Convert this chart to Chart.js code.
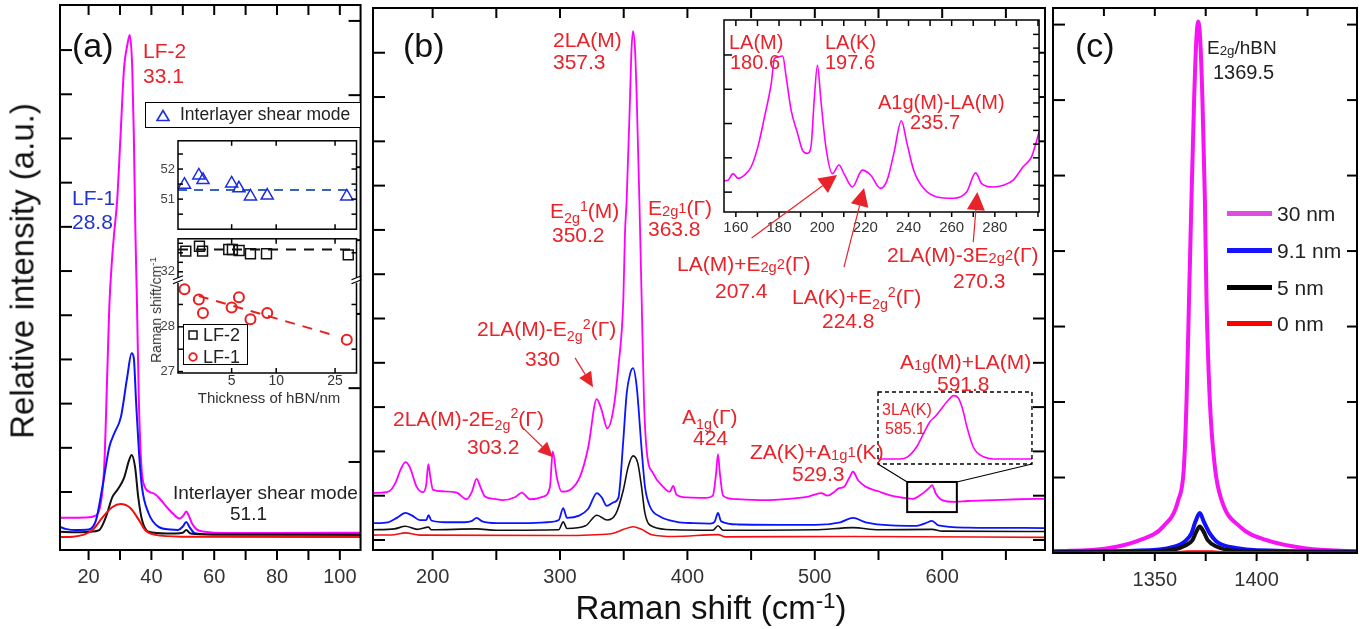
<!DOCTYPE html>
<html>
<head>
<meta charset="utf-8">
<script src="https://cdn.jsdelivr.net/npm/chart.js@4.4.1/dist/chart.umd.min.js"></script>
<style>
body { margin: 0; background: #fff; }
#fig { position: relative; width: 1360px; height: 629px; overflow: hidden; font-family: 'Liberation Sans', Arial, sans-serif; }
canvas { position: absolute; }
.t { position: absolute; white-space: nowrap; line-height: 1; transform: translateY(-50%); }
.t.c { transform: translate(-50%, -50%); }
.t.v { transform: translate(-50%, -50%) rotate(-90deg); }
.sb { font-size: 0.68em; position: relative; top: 0.32em; }
.sp { font-size: 0.68em; position: relative; top: -0.5em; }
.sm { font-size: 0.7em; position: relative; top: 0.08em; }
.su { font-size: 0.7em; position: relative; top: -0.12em; }
.box { position: absolute; border: 1.5px solid #000; background: #fff; box-sizing: border-box; }
svg { position: absolute; }
</style>
</head>
<body>
<div id="fig">
  <canvas id="ca" width="372" height="600" style="left:0;top:0"></canvas>
  <canvas id="cb" width="680" height="600" style="left:372px;top:0"></canvas>
  <canvas id="cc" width="308" height="600" style="left:1052px;top:0"></canvas>
  <div class="box" style="left:145px;top:102px;width:216px;height:26px"></div>
  <canvas id="cat" width="225" height="110" style="left:140px;top:130px"></canvas>
  <canvas id="cab" width="225" height="164" style="left:140px;top:228px"></canvas>
  <canvas id="cbi" width="345" height="260" style="left:700px;top:15px"></canvas>
</div>
<script>
// ---- (a) low frequency spectra: [shift, intensity]
var A_30NM = [[10.9,0.42],[15,0.42],[20,0.43],[22,0.46],[23,0.52],[24,0.8],[25,1.6],[26,3.8],[26.6,5.2],[27.5,6.3],[28.2,6.9],[29.1,7.6],[30.2,9.1],[31.3,10.6],[32.3,11.1],[33.1,11.34],[33.9,10.6],[34.4,9.1],[34.9,6.9],[35.4,5.3],[36,3.1],[36.8,1.6],[38,1.1],[39.5,1.0],[41.2,0.95],[43,0.82],[45,0.65],[47,0.5],[49,0.4],[50.2,0.47],[51.1,0.56],[52,0.45],[53,0.28],[54.5,0.15],[57,0.1],[60,0.08],[80,0.07],[106.6,0.08]];
var A_9NM = [[10.9,0.21],[13,0.16],[16,0.14],[20,0.15],[22.4,0.37],[24.4,1.11],[26.6,2.02],[28.2,2.33],[30.3,2.7],[32.3,3.6],[33.7,4.14],[34.4,4.03],[35.1,3.08],[36,1.95],[37,1.11],[39.1,0.52],[42.3,0.21],[46,0.15],[48.5,0.14],[50,0.22],[51.1,0.32],[52.2,0.2],[53.8,0.07],[60,0.04],[106.6,0.03]];
var A_5NM = [[10.9,0.1],[16,0.09],[20,0.1],[23.4,0.14],[25.5,0.43],[27.6,0.89],[29.2,1.05],[31.3,1.32],[32.9,1.72],[33.7,1.84],[34.8,1.57],[35.8,0.89],[37,0.37],[39.1,0.1],[45,0.06],[50,0.08],[51.1,0.14],[52.5,0.06],[60,0.04],[106.6,0.04]];
var A_0NM = [[10.9,-0.02],[15,-0.01],[18.2,0.03],[21.3,0.14],[24.5,0.43],[27.6,0.66],[30.2,0.73],[33.3,0.64],[36,0.37],[38,0.14],[41.2,0.03],[50,-0.01],[106.6,-0.02]];
var A_XTICKS = [20, 30, 40, 50, 60, 70, 80, 90, 100];
var A_XLABELS = [20, 40, 60, 80, 100];
var A_YTICKS = [1, 2, 3, 4, 5, 6, 7, 8, 9, 10, 11];
var A_YTICKS_R = [1.68, 3.35, 5.03, 6.7, 8.35, 9.98, 11.66];

// ---- (a) inset: peak position vs hBN thickness
var THICK = [2.4, 3.0, 3.2, 5.0, 5.6, 6.7, 8.7, 30];
var SHEAR = [51.48, 51.79, 51.64, 51.52, 51.36, 51.09, 51.12, 51.09];
var LF1 = [28.84, 28.61, 28.31, 28.43, 28.66, 28.17, 28.31, 27.71];
var LF2_THICK = [2.45, 3.03, 3.18, 4.78, 5.06, 5.62, 6.7, 8.6, 30.7];
var LF2 = [33.09, 33.34, 33.09, 33.17, 33.17, 33.12, 32.95, 32.95, 32.89];
var SHEAR_FIT = [[2.17, 51.3], [34.9, 51.3]];
var LF2_FIT = [[2.17, 33.17], [34.9, 33.17]];
var LF1_FIT = [[3.0, 28.69], [24.1, 27.82]];
var IN_XTICKS = [5, 10, 25];
var IN_TOP_YTICKS = [51, 52];
var IN_LO_YTICKS = [27, 28];
var IN_HI_YTICKS = [32];

// ---- (b) spectra
var B_30NM = [[153,1.06],[160,1.07],[166,1.1],[171,1.3],[175,1.6],[178.6,1.76],[182,1.65],[187.5,1.2],[192.5,1.08],[195,1.25],[196.6,1.71],[198.3,1.4],[200.3,1.13],[208,1.1],[218.9,1.07],[226.7,0.92],[231,1.1],[234.5,1.38],[237.5,1.2],[241.1,0.98],[248,0.93],[255.3,0.9],[265,0.97],[270,1.07],[276.4,0.92],[286.9,0.98],[292.1,1.2],[294.3,2.0],[297.4,1.43],[301.3,1.09],[307.8,1.13],[315.7,1.43],[322.2,2.1],[328.8,3.18],[332.7,2.93],[337.1,2.52],[341.8,2.93],[345.8,3.91],[349.7,5.42],[351,6.93],[352.3,7.67],[354.9,9.93],[356,11.0],[357.3,11.49],[358.9,11.06],[360.2,10.0],[362.3,7.67],[364.1,5.42],[365.9,3.16],[368,2.03],[373.2,1.5],[381,1.2],[386.2,1.09],[388.8,1.22],[391.5,1.02],[400,0.96],[415,0.95],[420,1.0],[422.5,1.5],[424,1.94],[425.5,1.5],[428,1.0],[435,0.93],[460,0.9],[480,0.93],[495,0.98],[505,1.06],[510,1.0],[515,1.08],[519,1.17],[523,1.2],[527,1.4],[530,1.54],[534,1.35],[540,1.2],[550,1.1],[560,1.0],[570,0.95],[577,0.93],[582,1.0],[586,1.08],[590,1.18],[592,1.24],[595,1.05],[600,0.9],[610,0.86],[620,0.88],[640,0.9],[660,0.92],[681,0.93]];
var B_9NM = [[153,0.38],[165,0.4],[172,0.5],[178.6,0.61],[184,0.55],[190,0.45],[195,0.45],[196.8,0.56],[199,0.44],[210,0.4],[225,0.4],[231,0.43],[234.5,0.5],[239,0.42],[250,0.38],[270,0.38],[290,0.4],[299,0.45],[302.5,0.72],[305.5,0.5],[315,0.55],[322,0.7],[329,1.06],[333,0.95],[336.7,0.77],[342,0.85],[345.8,0.95],[349.7,2.26],[352.3,3.3],[355,3.75],[357.3,3.88],[360.2,3.46],[364.1,2.03],[366.7,1.2],[370.7,0.75],[378.5,0.53],[391.6,0.41],[405,0.38],[418,0.37],[421.5,0.42],[424,0.61],[426.5,0.42],[440,0.35],[500,0.34],[520,0.4],[530,0.5],[540,0.4],[560,0.33],[580,0.32],[587,0.38],[592,0.43],[597,0.33],[620,0.28],[681,0.27]];
var B_5NM = [[153,0.23],[170,0.25],[178.6,0.31],[188,0.24],[196.8,0.29],[199,0.23],[234.5,0.25],[250,0.22],[299,0.23],[302.5,0.41],[305.5,0.26],[320,0.32],[329,0.56],[337,0.45],[344,0.6],[349.7,1.13],[353.5,1.65],[357.3,1.9],[361,1.74],[364,1.2],[366.7,0.6],[373,0.3],[390,0.23],[420,0.22],[424,0.32],[428,0.22],[500,0.23],[530,0.28],[550,0.23],[592,0.24],[600,0.2],[681,0.19]];
var B_0NM = [[153,0.11],[170,0.12],[178.6,0.16],[190,0.11],[300,0.1],[340,0.14],[350,0.24],[357.3,0.3],[364,0.24],[372,0.12],[390,0.08],[424,0.12],[430,0.07],[530,0.08],[681,0.06]];
var B_3LA = [[572.5,0.07],[578,0.07],[580,0.1],[582.3,0.24],[584,0.42],[585.7,0.59],[587,0.66],[589,0.8],[590.5,0.9],[591.6,0.95],[592.8,0.92],[594,0.75],[595,0.52],[596.6,0.24],[598,0.14],[599.2,0.1],[601.6,0.07],[611.5,0.07]];
var B_XTICKS = [200, 250, 300, 350, 400, 450, 500, 550, 600, 650];
var B_XLABELS = [200, 300, 400, 500, 600];
var B_YTICKS = [0, 1, 2, 3, 4, 5, 6, 7, 8, 9, 10, 11];

// ---- (b) inset: 30 nm spectrum 155-300 cm-1
var BI_30NM = [[154.5,0.33],[156.4,0.35],[158.7,0.54],[161,0.4],[164.1,0.5],[167.1,0.74],[170.2,1.32],[173.3,2.2],[176.4,3.17],[177.9,3.9],[180.2,3.95],[181.7,3.97],[183.3,3.36],[185.6,2.39],[188.6,1.71],[190.9,1.22],[193.2,1.13],[194.8,1.32],[196.3,2.68],[197.8,3.7],[199.4,2.68],[201.7,1.32],[204.7,0.54],[207.8,0.79],[210.1,0.54],[214,0.15],[218.6,0.64],[222.4,0.5],[227,0.11],[230.1,0.35],[233.2,1.13],[236.7,2.08],[239.3,1.42],[242.4,0.64],[247,0.11],[253.1,-0.14],[260.8,-0.18],[267,0.01],[271.1,0.56],[273.9,0.25],[279.3,0.15],[283.9,0.2],[288.5,0.35],[293.1,0.74],[297,1.03],[300.5,1.75]];
var BI_XTICKS = [160, 170, 180, 190, 200, 210, 220, 230, 240, 250, 260, 270, 280, 290, 300];
var BI_XLABELS = [160, 180, 200, 220, 240, 260, 280];
var BI_YTICKS = [0, 1, 2, 3, 4];
var BI_YTICKS_R = [-0.2, 0.2, 0.6, 1.0, 1.4, 1.8, 2.2, 2.6, 3.0, 3.4, 3.8, 4.2, 4.6];

// ---- (c) hBN E2g band
var C_30NM = [[1300,0.02],[1326.3,0.06],[1342.6,0.17],[1354.1,0.35],[1361.5,0.7],[1364.3,1.14],[1365.6,2.03],[1366.8,3.35],[1368,4.68],[1369.3,6.0],[1370.4,6.8],[1371.3,7.04],[1372.3,6.8],[1373.4,6.0],[1374.6,4.68],[1375.4,3.35],[1377,2.03],[1379.5,1.14],[1382.8,0.7],[1391.8,0.35],[1404.9,0.17],[1424.6,0.06],[1449.3,0.02]];
var C_9NM = [[1300,0.02],[1340,0.03],[1359,0.08],[1365,0.16],[1368,0.26],[1370,0.42],[1372.1,0.53],[1374,0.42],[1377,0.26],[1380,0.16],[1386.9,0.08],[1410,0.03],[1449.3,0.02]];
var C_5NM = [[1300,0.01],[1345,0.02],[1360,0.05],[1365,0.1],[1368.5,0.17],[1370.5,0.29],[1372.1,0.35],[1374,0.28],[1376,0.17],[1380,0.09],[1386,0.04],[1400,0.02],[1449.3,0.01]];
var C_0NM = [[1300,0],[1360,0.005],[1366,0.015],[1378,0.015],[1384,0.005],[1449.3,0]];
var C_XTICKS = [1325, 1350, 1375, 1400, 1425];
var C_XLABELS = [1350, 1400];
var C_YTICKS = [1, 2, 3, 4, 5, 6, 7];
var LEGEND = ['30 nm', '9.1 nm', '5 nm', '0 nm'];

var MAG = '#ff00ff', BLUE = '#0a14ff', BLACK = '#111111', REDL = '#f01010';
var RED = '#e8232a', BLUET = '#2336c8';

Chart.defaults.font.family = "'Liberation Sans', Arial, sans-serif";
Chart.defaults.color = '#333';
Chart.defaults.animation = false;
Chart.defaults.events = [];
Chart.defaults.plugins.legend.display = false;
Chart.defaults.plugins.tooltip.enabled = false;

function pts(a) { return a.map(function (p) { return { x: p[0], y: p[1] }; }); }
function line(a, color, w, extra) {
  return Object.assign({ data: pts(a), borderColor: color, borderWidth: w, pointRadius: 0, fill: false,
    cubicInterpolationMode: 'monotone' }, extra || {});
}
function setTicks(values) { return function (s) { s.ticks = values.map(function (v) { return { value: v }; }); }; }
function xAxis(min, max, ticks, labels, size, pad, h, type) {
  return {
    type: type || 'linear', min: min, max: max,
    afterBuildTicks: setTicks(ticks),
    afterFit: function (s) { s.height = h; },
    grid: { display: false, drawTicks: false }, border: { display: false },
    ticks: { autoSkip: false, maxRotation: 0, minRotation: 0, padding: pad, font: { size: size },
      callback: function (v) { return labels.indexOf(v) >= 0 ? String(v) : ''; } }
  };
}
function yLabelled(min, max, ticks, extra) {
  return Object.assign({
    type: 'linear', position: 'left', min: min, max: max,
    afterBuildTicks: setTicks(ticks),
    afterFit: function (s) { s.width = 38; },
    grid: { display: false, drawTicks: false }, border: { display: false },
    ticks: { padding: 3, color: '#444', font: { size: 13 }, callback: function (v) { return String(v); } }
  }, extra || {});
}

function drawArrow(ctx, xs, ys, ar) {
  var x0 = xs.getPixelForValue(ar.from[0]), y0 = ys.getPixelForValue(ar.from[1]);
  var x1 = xs.getPixelForValue(ar.to[0]), y1 = ys.getPixelForValue(ar.to[1]);
  var ang = Math.atan2(y1 - y0, x1 - x0), c = Math.cos(ang), s = Math.sin(ang);
  var bx = x1 - ar.head * c, by = y1 - ar.head * s;
  ctx.strokeStyle = RED; ctx.fillStyle = RED; ctx.lineWidth = 1.2; ctx.setLineDash([]);
  ctx.beginPath(); ctx.moveTo(x0, y0); ctx.lineTo(bx, by); ctx.stroke();
  ctx.beginPath(); ctx.moveTo(x1, y1);
  ctx.lineTo(bx + ar.half * s, by - ar.half * c);
  ctx.lineTo(bx - ar.half * s, by + ar.half * c);
  ctx.closePath(); ctx.fill();
}

// box, inward/outward ticks, arrows and zoom marks
function frame(cfg) {
  return {
    id: 'frame',
    beforeDatasetsDraw: function (chart) {
      if (!cfg.fill) return;
      var a = chart.chartArea, ctx = chart.ctx;
      ctx.save(); ctx.fillStyle = '#fff';
      ctx.fillRect(a.left, a.top, a.right - a.left, a.bottom - a.top);
      ctx.restore();
    },
    afterDatasetsDraw: function (chart) {
      var a = chart.chartArea, ctx = chart.ctx;
      ctx.save();
      ctx.strokeStyle = '#000';
      ctx.lineWidth = cfg.lw || 2;
      ctx.strokeRect(a.left, a.top, a.right - a.left, a.bottom - a.top);
      (cfg.marks || []).forEach(function (m) {
        var s = chart.scales[m.scale];
        ctx.lineWidth = m.w || cfg.lw || 2;
        m.values.forEach(function (v) {
          var p = s.getPixelForValue(v);
          ctx.beginPath();
          if (m.edge === 'bottom') { ctx.moveTo(p, a.bottom); ctx.lineTo(p, a.bottom + m.len); }
          else if (m.edge === 'top') { ctx.moveTo(p, a.top); ctx.lineTo(p, a.top - m.len); }
          else if (m.edge === 'left') { ctx.moveTo(a.left, p); ctx.lineTo(a.left - m.len, p); }
          else { ctx.moveTo(a.right, p); ctx.lineTo(a.right + m.len, p); }
          ctx.stroke();
        });
      });
      if (cfg.breakAt) {
        var lo = chart.scales.yLo, hi = chart.scales.yHi;
        var yb = lo.top > hi.top ? lo.top : hi.top;
        [a.left, a.right].forEach(function (x) {
          ctx.fillStyle = '#fff'; ctx.fillRect(x - 3, yb - 2, 6, 5);
          ctx.strokeStyle = '#000'; ctx.lineWidth = 1.2;
          ctx.beginPath(); ctx.moveTo(x - 5, yb); ctx.lineTo(x + 5, yb - 4); ctx.stroke();
          ctx.beginPath(); ctx.moveTo(x - 5, yb + 4); ctx.lineTo(x + 5, yb); ctx.stroke();
        });
      }
      if (cfg.zoom) {
        var z = cfg.zoom, sx = chart.scales.x, sy = chart.scales.y, zx = chart.scales.xz, zy = chart.scales.yz;
        var L = sx.getPixelForValue(z.x0), R = sx.getPixelForValue(z.x1);
        var T = sy.getPixelForValue(z.y1), B = sy.getPixelForValue(z.y0);
        var L2 = zx.getPixelForValue(z.x0), R2 = zx.getPixelForValue(z.x1);
        var T2 = zy.getPixelForValue(1), B2 = zy.getPixelForValue(0);
        ctx.strokeStyle = '#000';
        ctx.lineWidth = 2; ctx.strokeRect(L, T, R - L, B - T);
        ctx.lineWidth = 1.2;
        ctx.beginPath(); ctx.moveTo(L, T); ctx.lineTo(L2, B2); ctx.moveTo(R, T); ctx.lineTo(R2, B2); ctx.stroke();
        ctx.setLineDash([4, 3]); ctx.lineWidth = 1.4;
        ctx.strokeRect(L2, T2, R2 - L2, B2 - T2);
        ctx.setLineDash([]);
      }
      (cfg.arrows || []).forEach(function (ar) { drawArrow(ctx, chart.scales.x, chart.scales.y, ar); });
      ctx.restore();
    }
  };
}

// (a)
new Chart(document.getElementById('ca'), {
  type: 'line',
  data: { datasets: [line(A_0NM, REDL, 2), line(A_5NM, BLACK, 2), line(A_9NM, BLUE, 2), line(A_30NM, MAG, 2)] },
  options: {
    responsive: false,
    layout: { padding: { left: 60, top: 5, right: 7, bottom: 0 } },
    scales: {
      x: xAxis(10.9, 106.6, A_XTICKS, A_XLABELS, 20, 15, 50),
      y: { type: 'linear', display: false, min: -0.312, max: 12.02 }
    }
  },
  plugins: [frame({ marks: [
    { scale: 'x', values: A_XTICKS, edge: 'bottom', len: 10 },
    { scale: 'x', values: A_XTICKS, edge: 'top', len: -10 },
    { scale: 'y', values: A_YTICKS, edge: 'left', len: -12 },
    { scale: 'y', values: A_YTICKS_R, edge: 'right', len: -12 }] })]
});

// (a) inset, top: shear mode
new Chart(document.getElementById('cat'), {
  type: 'scatter',
  data: { datasets: [
    { data: THICK.map(function (t, i) { return { x: t, y: SHEAR[i] }; }), pointStyle: 'triangle', pointRadius: 7,
      borderColor: '#1b2ee0', borderWidth: 1.5, backgroundColor: 'rgba(0,0,0,0)' },
    line(SHEAR_FIT, '#3a64b8', 2, { showLine: true, borderDash: [9, 7], cubicInterpolationMode: 'default' })] },
  options: {
    responsive: false,
    layout: { padding: { top: 5, right: 4, bottom: 8 } },
    scales: {
      x: { type: 'logarithmic', display: false, min: 2.17, max: 34.9 },
      y: yLabelled(50.0, 52.94, IN_TOP_YTICKS)
    }
  },
  plugins: [frame({ lw: 1.5, fill: true, marks: [
    { scale: 'x', values: IN_XTICKS, edge: 'top', len: -5 },
    { scale: 'x', values: IN_XTICKS, edge: 'bottom', len: -5 },
    { scale: 'y', values: [50.5, 51, 51.5, 52, 52.5], edge: 'left', len: -5 },
    { scale: 'y', values: [50.5, 51, 51.5, 52, 52.5], edge: 'right', len: -5 }] })]
});

// (a) inset, bottom: LF-1 / LF-2 with broken axis
new Chart(document.getElementById('cab'), {
  type: 'scatter',
  data: { datasets: [
    { data: LF2_THICK.map(function (t, i) { return { x: t, y: LF2[i] }; }), yAxisID: 'yHi', pointStyle: 'rect', pointRadius: 7,
      borderColor: '#111', borderWidth: 1.5, backgroundColor: 'rgba(0,0,0,0)' },
    { data: THICK.map(function (t, i) { return { x: t, y: LF1[i] }; }), yAxisID: 'yLo', pointStyle: 'circle', pointRadius: 5,
      borderColor: '#ee1c1c', borderWidth: 2, backgroundColor: 'rgba(0,0,0,0)' },
    line(LF2_FIT, '#111', 2, { yAxisID: 'yHi', showLine: true, borderDash: [10, 8], cubicInterpolationMode: 'default' }),
    line(LF1_FIT, '#e82020', 2, { yAxisID: 'yLo', showLine: true, borderDash: [10, 8], cubicInterpolationMode: 'default' })] },
  options: {
    responsive: false,
    layout: { padding: { top: 4, right: 4 } },
    scales: {
      x: xAxis(2.17, 34.9, IN_XTICKS, IN_XTICKS, 14, 0, 19, 'logarithmic'),
      yLo: yLabelled(26.968, 29.053, IN_LO_YTICKS, { stack: 'lf', stackWeight: 98 }),
      yHi: yLabelled(31.585, 33.735, IN_HI_YTICKS, { stack: 'lf', stackWeight: 43 })
    }
  },
  plugins: [frame({ lw: 1.5, fill: true, breakAt: true, marks: [
    { scale: 'x', values: IN_XTICKS, edge: 'top', len: -5 },
    { scale: 'x', values: IN_XTICKS, edge: 'bottom', len: -5 },
    { scale: 'yLo', values: [27, 27.5, 28, 28.5], edge: 'left', len: -5 },
    { scale: 'yHi', values: [32, 32.5, 33, 33.5], edge: 'left', len: -5 },
    { scale: 'yLo', values: [27.5, 28.5], edge: 'right', len: -5 },
    { scale: 'yHi', values: [33], edge: 'right', len: -5 }] })]
});

// (b)
new Chart(document.getElementById('cb'), {
  type: 'line',
  data: { datasets: [line(B_0NM, REDL, 1.6), line(B_5NM, BLACK, 1.6), line(B_9NM, BLUE, 1.8), line(B_30NM, MAG, 1.8),
    line(B_3LA, MAG, 1.6, { xAxisID: 'xz', yAxisID: 'yz' })] },
  options: {
    responsive: false,
    layout: { padding: { left: 1, top: 8, right: 7, bottom: 0 } },
    scales: {
      x: xAxis(153.2, 680.7, B_XTICKS, B_XLABELS, 20, 15, 50),
      y: { type: 'linear', display: false, min: -0.226, max: 12.01 },
      xz: { type: 'linear', display: false, min: 444.6, max: 614.8 },
      yz: { type: 'linear', display: false, min: -1.194, max: 6.333 }
    }
  },
  plugins: [frame({
    marks: [
      { scale: 'x', values: B_XTICKS, edge: 'bottom', len: 10 },
      { scale: 'x', values: B_XTICKS, edge: 'top', len: -10 },
      { scale: 'y', values: B_YTICKS, edge: 'left', len: -12 },
      { scale: 'y', values: B_YTICKS, edge: 'right', len: -12 }],
    zoom: { x0: 572.5, x1: 611.5, y0: 0.63, y1: 1.31 },
    arrows: [
      { from: [270.9, 2.53], to: [294.5, 1.87], head: 15, half: 7 },
      { from: [311.8, 4.11], to: [325.9, 3.45], head: 15, half: 7 }]
  })]
});

// (b) inset
new Chart(document.getElementById('cbi'), {
  type: 'line',
  data: { datasets: [line(BI_30NM, MAG, 1.6)] },
  options: {
    responsive: false,
    layout: { padding: { left: 24, top: 5, right: 4, bottom: 0 } },
    scales: {
      x: xAxis(154.5, 300.5, BI_XTICKS, BI_XLABELS, 15, 7, 63),
      y: { type: 'linear', display: false, min: -0.58, max: 5.02 }
    }
  },
  plugins: [frame({
    lw: 1.5, fill: true,
    marks: [
      { scale: 'x', values: BI_XTICKS, edge: 'top', len: -6 },
      { scale: 'x', values: BI_XTICKS, edge: 'bottom', len: 5 },
      { scale: 'y', values: BI_YTICKS, edge: 'left', len: -8 },
      { scale: 'y', values: BI_YTICKS_R, edge: 'right', len: -6 }],
    arrows: [
      { from: [167.3, -1.34], to: [206.9, 0.5], head: 18, half: 9 },
      { from: [210.1, -2.19], to: [219.4, 0.12], head: 18, half: 9 },
      { from: [270.0, -1.46], to: [271.9, 0.0], head: 18, half: 9 }]
  })]
});

// (c)
new Chart(document.getElementById('cc'), {
  type: 'line',
  data: { datasets: [line(C_0NM, '#ff0000', 3), line(C_5NM, BLACK, 4), line(C_9NM, '#1010ff', 4), line(C_30NM, '#f414f4', 4)] },
  options: {
    responsive: false,
    layout: { padding: { left: 1, top: 8, right: 3, bottom: 0 } },
    scales: {
      x: xAxis(1300, 1449.3, C_XTICKS, C_XLABELS, 20, 15, 47),
      y: { type: 'linear', display: false, min: 0, max: 7.22 }
    }
  },
  plugins: [frame({ marks: [
    { scale: 'x', values: C_XTICKS, edge: 'bottom', len: 8 },
    { scale: 'x', values: C_XTICKS, edge: 'top', len: -8 },
    { scale: 'y', values: C_YTICKS, edge: 'left', len: -12 },
    { scale: 'y', values: C_YTICKS, edge: 'right', len: -10 }] })]
});

// ---- text
var fig = document.getElementById('fig');
function addText(html, x, y, size, color, mode) {
  var d = document.createElement('div');
  d.className = 't' + (mode ? ' ' + mode : '');
  d.style.left = x + 'px'; d.style.top = y + 'px';
  d.style.fontSize = size + 'px'; d.style.color = color || '#111';
  d.innerHTML = html;
  fig.appendChild(d);
}
function addSvg(html, x, y, w, h) {
  fig.insertAdjacentHTML('beforeend', '<svg style="left:' + x + 'px;top:' + y + 'px" width="' + w + '" height="' + h + '">' + html + '</svg>');
}

addText('Relative intensity (a.u.)', 22, 271, 33, '#111', 'v');
addText('Raman shift (cm<span class="sp">-1</span>)', 711, 607, 33, '#111', 'c');

addText('(a)', 72, 45, 34);
addText('LF-2', 143, 50, 21, RED);
addText('33.1', 143, 75, 21, RED);
addText('LF-1', 72, 197, 21, BLUET);
addText('28.8', 72, 221, 21, BLUET);
addText('Interlayer shear mode', 173, 492, 19, '#222');
addText('51.1', 230, 513, 19, '#222');

addSvg('<polygon points="7,1.5 13,11.5 1,11.5" fill="none" stroke="#1b2ee0" stroke-width="1.6"/>', 156, 109, 14, 13);
addText('Interlayer shear mode', 180, 115, 17.5, '#222');
addText('Raman shift/cm<span class="sp">-1</span>', 156, 310, 14, '#333', 'v');
addText('Thickness of hBN/nm', 269, 397, 15, '#333', 'c');
fig.insertAdjacentHTML('beforeend', '<div class="box" style="left:183px;top:324px;width:65px;height:41px"></div>');
addSvg('<rect x="1" y="1" width="8" height="8" fill="none" stroke="#111" stroke-width="1.5"/>', 188, 330, 10, 10);
addSvg('<circle cx="5" cy="5" r="3.8" fill="none" stroke="#ee1c1c" stroke-width="1.8"/>', 188, 352, 10, 10);
addText('LF-2', 203, 335, 18, '#222');
addText('LF-1', 203, 357, 18, '#222');

addText('(b)', 403, 45, 34);
addText('2LA(M)', 553, 39, 21, RED);
addText('357.3', 553, 61, 21, RED);
addText('E<span class="sb">2g</span><span class="sp">1</span>(M)', 550, 210, 21, RED);
addText('350.2', 552, 234, 21, RED);
addText('E<span class="sm">2g</span><span class="su">1</span>(Γ)', 648, 207, 21, RED);
addText('363.8', 648, 228, 21, RED);
addText('LA(M)', 729, 41.5, 20, RED);
addText('180.6', 730, 62, 20, RED);
addText('LA(K)', 825, 41.5, 20, RED);
addText('197.6', 825, 62, 20, RED);
addText('A1g(M)-LA(M)', 878, 101.5, 20, RED);
addText('235.7', 910, 121.5, 20, RED);
addText('LA(M)+E<span class="sm">2g</span><span class="su">2</span>(Γ)', 677, 263, 21, RED);
addText('207.4', 715, 290, 21, RED);
addText('LA(K)+E<span class="sb">2g</span><span class="sp">2</span>(Γ)', 792, 296, 21, RED);
addText('224.8', 822, 320, 21, RED);
addText('2LA(M)-3E<span class="sm">2g</span><span class="su">2</span>(Γ)', 887, 254, 21, RED);
addText('270.3', 953, 279.5, 21, RED);
addText('2LA(M)-E<span class="sb">2g</span><span class="sp">2</span>(Γ)', 477, 328, 21, RED);
addText('330', 525, 357.5, 21, RED);
addText('2LA(M)-2E<span class="sb">2g</span><span class="sp">2</span>(Γ)', 393, 417.5, 21, RED);
addText('303.2', 467, 445.5, 21, RED);
addText('A<span class="sb">1g</span>(Γ)', 682, 416, 21, RED);
addText('424', 693, 437, 21, RED);
addText('ZA(K)+A<span class="sm">1g</span><span class="su">1</span>(K)', 750, 450.5, 21, RED);
addText('529.3', 792, 472.5, 21, RED);
addText('A<span class="sm">1g</span>(M)+LA(M)', 900, 360.5, 21, RED);
addText('591.8', 937, 382.5, 21, RED);
addText('3LA(K)', 882, 410, 16, RED);
addText('585.1', 885, 428.5, 16, RED);

addText('(c)', 1075, 45, 34);
addText('E<span class="sm">2g</span>/hBN', 1207, 47, 19, '#222');
addText('1369.5', 1213, 71.5, 20, '#222');
var legendColors = ['#e04ce0', '#1414ff', '#000000', '#ff0000'];
var legendY = [213, 250, 287, 323];
LEGEND.forEach(function (name, i) {
  fig.insertAdjacentHTML('beforeend', '<div style="position:absolute;left:1227px;top:' + (legendY[i] - 2.5) +
    'px;width:45px;height:5px;background:' + legendColors[i] + '"></div>');
  addText(name, 1277, legendY[i], 21, '#222');
});
</script>
</body>
</html>
